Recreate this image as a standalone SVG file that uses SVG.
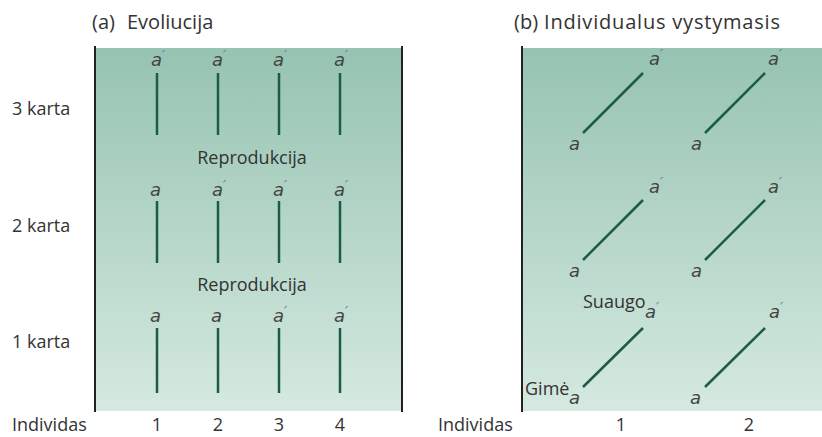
<svg xmlns="http://www.w3.org/2000/svg" width="822" height="437" viewBox="0 0 822 437">
<defs>
<linearGradient id="bg" x1="0" y1="0" x2="0" y2="1">
<stop offset="0" stop-color="#96c3b2"/>
<stop offset="1" stop-color="#d5e9e0"/>
</linearGradient>
<style>
.t{font-family:"Open Sans","Liberation Sans",sans-serif;font-size:18px;fill:#333}
.h{font-family:"Open Sans","Liberation Sans",sans-serif;font-size:20px;fill:#333}
.a{font-family:"DejaVu Sans","Liberation Sans",sans-serif;font-style:italic;font-size:18px;fill:#444}
.p{fill:#777;font-size:14px}
.n{font-family:"Open Sans","Liberation Sans",sans-serif;font-size:18px;fill:#333;text-anchor:middle}
.ln{stroke:#1d5c44;stroke-width:2.5;fill:none}
.ax{stroke:#222;stroke-width:2;fill:none}
</style>
</defs>
<rect width="822" height="437" fill="#fff"/>
<g id="panel-a">
<rect x="95" y="48" width="307" height="363" fill="url(#bg)"/>
<line class="ax" x1="95" y1="46" x2="95" y2="412"/>
<line class="ax" x1="402" y1="46" x2="402" y2="412"/>
<text class="h" x="92" y="29">(a)</text>
<text class="h" x="127" y="29">Evoliucija</text>
<text class="t" x="12" y="115">3 karta</text>
<text class="t" x="12" y="232">2 karta</text>
<text class="t" x="12" y="348">1 karta</text>
<text class="t" x="12" y="431">Individas</text>
<text class="n" x="157" y="431">1</text>
<text class="n" x="218" y="431">2</text>
<text class="n" x="279" y="431">3</text>
<text class="n" x="340" y="431">4</text>
<text class="t" x="252" y="164" text-anchor="middle">Reprodukcija</text>
<text class="t" x="252" y="291" text-anchor="middle">Reprodukcija</text>
</g>
<g id="gen3">
<text class="a" x="151" y="66">a<tspan class="p" dy="-6">′</tspan></text>
<text class="a" x="212" y="66">a<tspan class="p" dy="-6">′</tspan></text>
<text class="a" x="273" y="66">a<tspan class="p" dy="-6">′</tspan></text>
<text class="a" x="334" y="66">a<tspan class="p" dy="-6">′</tspan></text>
<line class="ln" x1="157" y1="73" x2="157" y2="135"/><line class="ln" x1="218" y1="73" x2="218" y2="135"/><line class="ln" x1="279" y1="73" x2="279" y2="135"/><line class="ln" x1="340" y1="73" x2="340" y2="135"/>
</g>
<g id="gen2">
<text class="a" x="150" y="196">a</text>
<text class="a" x="212" y="196">a<tspan class="p" dy="-6">′</tspan></text>
<text class="a" x="273" y="196">a<tspan class="p" dy="-6">′</tspan></text>
<text class="a" x="334" y="196">a<tspan class="p" dy="-6">′</tspan></text>
<line class="ln" x1="157" y1="201" x2="157" y2="263"/><line class="ln" x1="218" y1="201" x2="218" y2="263"/><line class="ln" x1="279" y1="201" x2="279" y2="263"/><line class="ln" x1="340" y1="201" x2="340" y2="263"/>
</g>
<g id="gen1">
<text class="a" x="150" y="322">a</text>
<text class="a" x="211" y="322">a</text>
<text class="a" x="273" y="322">a<tspan class="p" dy="-6">′</tspan></text>
<text class="a" x="334" y="322">a<tspan class="p" dy="-6">′</tspan></text>
<line class="ln" x1="157" y1="328" x2="157" y2="393"/><line class="ln" x1="218" y1="328" x2="218" y2="393"/><line class="ln" x1="279" y1="328" x2="279" y2="393"/><line class="ln" x1="340" y1="328" x2="340" y2="393"/>
</g>
<g id="panel-b">
<rect x="522" y="48" width="300" height="363" fill="url(#bg)"/>
<line class="ax" x1="522" y1="46" x2="522" y2="412"/>
<text class="h" x="514" y="29">(b)</text>
<text class="h" x="544" y="29" textLength="236" lengthAdjust="spacing">Individualus vystymasis</text>
<text class="t" x="438" y="431">Individas</text>
<text class="n" x="621" y="431">1</text>
<text class="n" x="749" y="431">2</text>
</g>
<g id="ind1">
<text class="a" x="649" y="65">a<tspan class="p" dy="-6">′</tspan></text>
<line class="ln" x1="583" y1="133" x2="643" y2="73"/>
<text class="a" x="569" y="150">a</text>
<text class="a" x="649" y="193">a<tspan class="p" dy="-6">′</tspan></text>
<line class="ln" x1="583" y1="260" x2="643" y2="200"/>
<text class="a" x="569" y="277">a</text>
<text class="t" x="583" y="308">Suaugo</text>
<text class="a" x="645" y="318">a<tspan class="p" dy="-6">′</tspan></text>
<line class="ln" x1="583" y1="387" x2="643" y2="328"/>
<text class="t" x="525" y="395">Gimė</text>
<text class="a" x="569" y="404">a</text>
</g>
<g id="ind2">
<text class="a" x="768" y="65">a<tspan class="p" dy="-6">′</tspan></text>
<line class="ln" x1="705" y1="133" x2="765" y2="73"/>
<text class="a" x="691" y="150">a</text>
<text class="a" x="768" y="193">a<tspan class="p" dy="-6">′</tspan></text>
<line class="ln" x1="705" y1="260" x2="765" y2="200"/>
<text class="a" x="691" y="277">a</text>
<text class="a" x="769" y="318">a<tspan class="p" dy="-6">′</tspan></text>
<line class="ln" x1="705" y1="387" x2="765" y2="328"/>
<text class="a" x="690" y="404">a</text>
</g>
</svg>
